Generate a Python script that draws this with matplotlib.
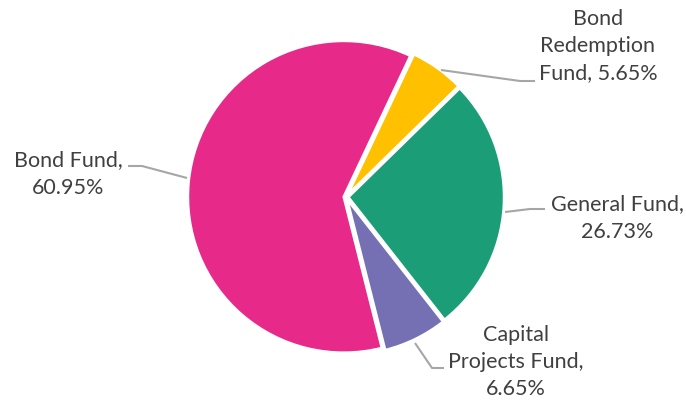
import matplotlib
matplotlib.use('Agg')
import matplotlib.pyplot as plt
import numpy as np

funds = ["Bond Redemption Fund", "General Fund", "Capital Projects Fund", "Bond Fund"]
shares = [5.65, 26.73, 6.65, 60.95]
label_text = ["Bond\nRedemption\nFund, 5.65%", "General Fund,\n26.73%",
              "Capital\nProjects Fund,\n6.65%", "Bond Fund,\n60.95%"]
colors = ['#FFC000', '#1B9E77', '#7570B3', '#E7298A']

W, H = 686, 404
cx, cy, R = 346, 197, 156   # pie centre / radius in pixels


def px(x, y):
    # pixel (from top-left) -> data units (radius = 1)
    return ((x - cx) / R, (cy - y) / R)


fig = plt.figure(figsize=(W / 100, H / 100), dpi=100)
ax = fig.add_axes([0, 0, 1, 1])
wedges, _ = ax.pie(shares, colors=colors, startangle=64.7, counterclock=False,
                   explode=[0.014] * 4, radius=1,
                   wedgeprops=dict(edgecolor='white', linewidth=2))
ax.set_xlim(-cx / R, (W - cx) / R)
ax.set_ylim(-(H - cy) / R, cy / R)
ax.set_aspect('equal')
ax.axis('off')

# label text centres and leader line paths (pixels)
text_pos = [(598, 46), (617, 218), (516, 362), (68, 174)]
leaders = [[(441, 70), (520, 81), (535, 81)],
           [(505, 212), (530, 209), (545, 209)],
           [(415, 343), (432, 368), (444, 368)],
           [(187, 178), (142, 166), (128, 166)]]

for txt, pos, path in zip(label_text, text_pos, leaders):
    pts = np.array([px(*p) for p in path])
    ax.plot(pts[:, 0], pts[:, 1], color='#A6A6A6', linewidth=1.5,
            solid_capstyle='butt')
    tx, ty = px(*pos)
    ax.text(tx, ty, txt, ha='center', va='center', fontsize=15.5,
            family='Lato', color='#404040', linespacing=1.45)

plt.savefig('out.png', dpi=100)
